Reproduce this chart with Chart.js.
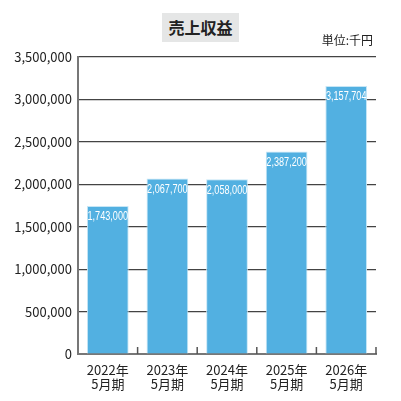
<!DOCTYPE html>
<html>
<head>
<meta charset="utf-8">
<script src="https://cdn.jsdelivr.net/npm/chart.js@4"></script>
<style>
  body { margin: 0; background: #fff; }
  #wrap { position: relative; width: 401px; height: 401px; }
  #title {
    position: absolute; left: 162px; top: 13px; width: 77px; height: 29px;
    background: #e5e6e6; font: bold 16px "Noto Sans CJK JP", sans-serif;
    color: #222; text-align: center; line-height: 29px;
  }
  #unit {
    position: absolute; right: 28px; top: 31px;
    font: 12px "Noto Sans CJK JP", sans-serif; color: #222;
  }
  canvas { position: absolute; left: 0; top: 0; }
</style>
</head>
<body>
<div id="wrap">
  <canvas id="chart" width="401" height="401"></canvas>
  <div id="title">売上収益</div>
  <div id="unit">単位:千円</div>
</div>
<script>
const categories = [['2022年', '5月期'], ['2023年', '5月期'], ['2024年', '5月期'], ['2025年', '5月期'], ['2026年', '5月期']];
const revenue = [1743000, 2067700, 2058000, 2387200, 3157704];
const yTicks = [0, 500000, 1000000, 1500000, 2000000, 2500000, 3000000, 3500000];

// labels inside the top of each bar (squeezed to look condensed)
const barLabels = {
  id: 'barLabels',
  afterDatasetsDraw(chart) {
    const ctx = chart.ctx;
    const meta = chart.getDatasetMeta(0);
    meta.data.forEach((bar, i) => {
      ctx.save();
      ctx.translate(bar.x, bar.y + 11);
      ctx.scale(0.76, 1);
      ctx.fillStyle = '#ffffff';
      ctx.font = '12px "Liberation Sans", sans-serif';
      ctx.textAlign = 'center';
      ctx.textBaseline = 'middle';
      ctx.fillText(revenue[i].toLocaleString('en-US'), 0, 0);
      ctx.restore();
    });
  }
};

// short ticks pointing up from the baseline, between categories
const innerTicks = {
  id: 'innerTicks',
  afterDatasetsDraw(chart) {
    const ctx = chart.ctx;
    const x = chart.scales.x;
    const bottom = chart.chartArea.bottom;
    ctx.save();
    ctx.strokeStyle = '#555';
    ctx.lineWidth = 1.5;
    for (let i = 0; i < categories.length; i++) {
      const px = i < categories.length - 1
        ? (x.getPixelForValue(i) + x.getPixelForValue(i + 1)) / 2
        : chart.chartArea.right;
      ctx.beginPath();
      ctx.moveTo(px, bottom - 7);
      ctx.lineTo(px, bottom);
      ctx.stroke();
    }
    ctx.restore();
  }
};

new Chart(document.getElementById('chart'), {
  type: 'bar',
  data: {
    labels: categories,
    datasets: [{
      data: revenue,
      backgroundColor: '#52b0e1',
      borderColor: '#c6e6f6',
      borderWidth: 1,
      barPercentage: 0.7,
      categoryPercentage: 1
    }]
  },
  options: {
    responsive: false,
    animation: false,
    layout: { padding: { top: 57, right: 25, bottom: 0, left: 0 } },
    plugins: { legend: { display: false }, tooltip: { enabled: false } },
    scales: {
      x: {
        afterFit: s => { s.height = 47; },
        grid: { display: false },
        border: { display: true, color: '#777', width: 2 },
        ticks: {
          color: '#222',
          padding: 1,
          font: { family: '"Noto Sans CJK JP", sans-serif', size: 13, lineHeight: 1.1 }
        }
      },
      y: {
        min: 0,
        max: 3500000,
        afterFit: s => { s.width = 78; },
        afterBuildTicks: s => { s.ticks = yTicks.map(v => ({ value: v })); },
        grid: { color: '#444', lineWidth: 1.2, drawTicks: false },
        border: { display: true, color: '#777', width: 2 },
        ticks: {
          color: '#222',
          padding: 6,
          font: { family: '"Noto Sans CJK JP", sans-serif', size: 13 },
          callback: v => v.toLocaleString('en-US')
        }
      }
    }
  },
  plugins: [barLabels, innerTicks]
});
</script>
</body>
</html>
